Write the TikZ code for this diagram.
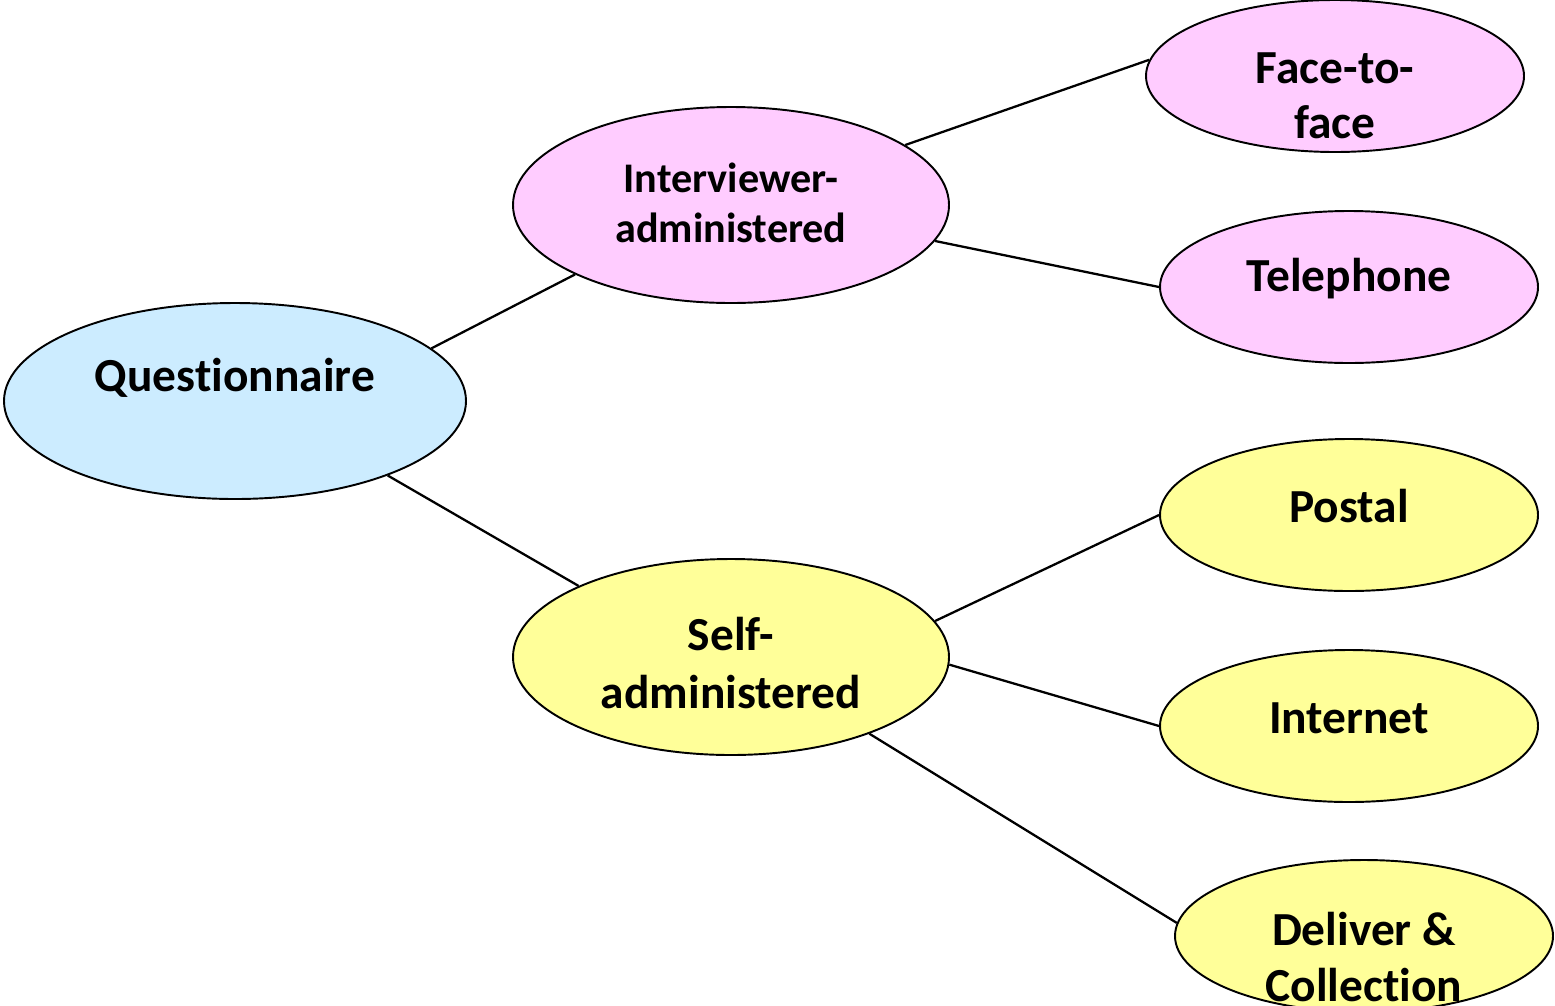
\documentclass[tikz,border=0pt]{standalone}
\usepackage{fontspec}
\setmainfont[Ligatures=NoCommon]{Carlito}
\usetikzlibrary{shapes.geometric}
\definecolor{pinkfill}{HTML}{FFCCFF}
\definecolor{bluefill}{HTML}{CCECFF}
\definecolor{yellowfill}{HTML}{FFFF99}
\tikzset{
  oval/.style={ellipse,draw=black,line width=1.1pt,inner sep=0pt},
  bigoval/.style={oval,minimum width=436\pxu,minimum height=196\pxu},
  leafoval/.style={oval,minimum width=378\pxu,minimum height=152\pxu},
  label/.style={font=\bfseries\fontsize{27}{32}\selectfont,align=center,inner sep=0pt},
  link/.style={line width=1.3pt}
}
\newcommand{\pxu}{*0.02cm}
\begin{document}
\begin{tikzpicture}[x=0.02cm,y=-0.02cm]
        \useasboundingbox (0,0) rectangle (1555,1005);
        \clip (0,0) rectangle (1555,1005);
        % ovals
        \node[bigoval,minimum width=462\pxu,fill=bluefill] (quest) at (235,401) {};
        \node[bigoval,fill=pinkfill] (intv) at (731,205) {};
        \node[bigoval,fill=yellowfill] (self) at (731,657) {};
        \node[leafoval,fill=pinkfill] (face) at (1335,76) {};
        \node[leafoval,fill=pinkfill] (phone) at (1349,287) {};
        \node[leafoval,fill=yellowfill] (postal) at (1349,515) {};
        \node[leafoval,fill=yellowfill] (web) at (1349,726) {};
        \node[leafoval,fill=yellowfill] (deliver) at (1364,936) {};
        % texts
        \node[label] (quest-t) at (235,378) {Questionnaire};
        \node[label,font=\bfseries\fontsize{24}{28.5}\selectfont] (intv-t) at (731,203) {Interviewer-\\administered};
        \node[label,font=\bfseries\fontsize{27}{33}\selectfont] (self-t) at (731,663) {Self-\\administered};
        \node[label,font=\bfseries\fontsize{27}{31}\selectfont] (face-t) at (1335,96) {Face-to-\\face};
        \node[label] (phone-t) at (1349,279) {Telephone};
        \node[label] (postal-t) at (1349,506) {Postal};
        \node[label] (web-t) at (1349,718) {Internet};
        \node[label] (deliver-t) at (1364,957) {Deliver \&\\Collection};
        % links
        \draw[link] (quest.15) -- (intv.204);
        \draw[link] (quest.334) -- (self.155);
        \draw[link] (intv.19) -- (face.175);
        \draw[link] (intv.350) -- (phone.180);
        \draw[link] (self.10) -- (postal.180);
        \draw[link] (self.358) -- (web.180);
        \draw[link] (self.331) -- (deliver.176);
    \end{tikzpicture}
\end{document}
